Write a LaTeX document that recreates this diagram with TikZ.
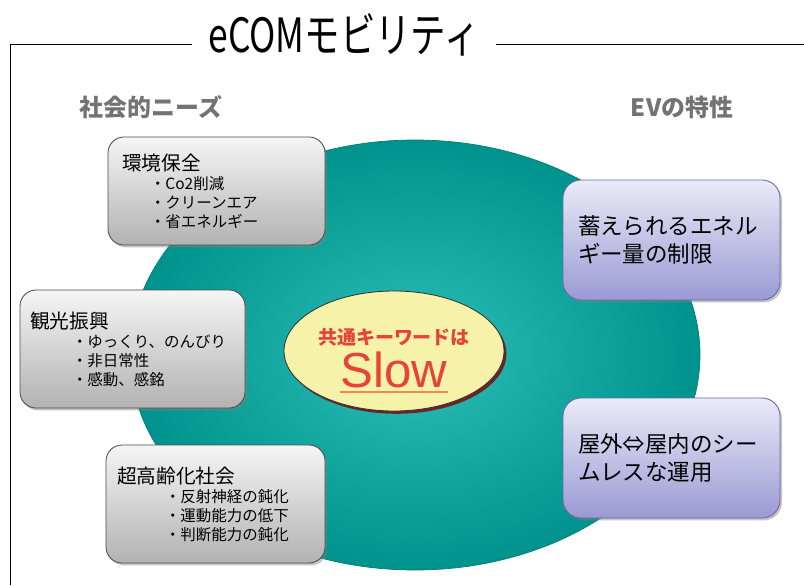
\documentclass[tikz,border=0pt]{standalone}
\usepackage{fontspec}
\setmainfont{Noto Sans CJK JP}
\newfontfamily\latinfont{Liberation Sans}
\usetikzlibrary{shapes.geometric,shadows}

\definecolor{tealin}{HTML}{2CBFB6}
\definecolor{tealout}{HTML}{00938D}
\definecolor{needtop}{HTML}{F5F5F5}
\definecolor{needbot}{HTML}{B2B2B2}
\definecolor{evtop}{HTML}{EAEAF8}
\definecolor{evbot}{HTML}{9A9AD4}
\definecolor{slowred}{HTML}{E6433A}
\definecolor{slowline}{HTML}{F08A4B}
\definecolor{slowfill}{HTML}{F6F2AA}

\newcommand\needitem[2]{\hspace*{#1}・#2}

\tikzset{
  needbox/.style={rounded corners=0.4cm, draw=black!70, line width=0.6pt,
    top color=needtop, bottom color=needbot,
    drop shadow={shadow xshift=0.05cm, shadow yshift=-0.06cm, opacity=0.45},
    align=left, font=\fontsize{11}{13.5}\selectfont},
  evbox/.style={rounded corners=0.45cm, draw=black!60!blue!60, line width=0.6pt,
    top color=evtop, bottom color=evbot,
    drop shadow={shadow xshift=0.05cm, shadow yshift=-0.06cm, opacity=0.45},
    align=left, inner xsep=0.375cm, text width=4.675cm, minimum height=3cm,
    font=\fontsize{16}{20}\selectfont},
  heading/.style={text=black!55, font=\fontsize{17}{20}\selectfont\bfseries},
  boxtitle/.style={font=\fontsize{14}{18}\selectfont}
}

\begin{document}
\begin{tikzpicture}
	%%%%% FRAME %%%%%
	\useasboundingbox (0, 0) rectangle (20.1, 14.625);
	\fill[white] (0, 0) rectangle (20.1, 14.625);
	
	\node[inner xsep=0.4cm, inner ysep=0] (title) at (8.6, 13.75)
		{\scalebox{0.84}[1.12]{\fontsize{30}{34}\selectfont eCOMモビリティ}};
	\coordinate (corner) at (0.25, 13.525);
	\draw[line width=0.6pt] (0.25, 0) -- (corner) -- (title.west |- corner);
	\draw[line width=0.6pt] (title.east |- corner) -- (20.1, 13.525);
	
	\node[heading] (needs) at (3.775, 11.95) {社会的ニーズ};
	\node[heading] (evtraits) at (17.05, 11.95) {EVの特性};
	
	%%%%% ELLIPSES %%%%%
	\node[ellipse, draw=tealout!85!black, line width=0.5pt, inner color=tealin, outer color=tealout,
		minimum width=14.25cm, minimum height=10.75cm] (base) at (10.375, 5.75) {};
	
	\node[ellipse, draw=black!80, line width=0.6pt, fill=slowfill,
		drop shadow={shadow xshift=0.06cm, shadow yshift=-0.07cm, fill=red!50!black, opacity=0.8},
		minimum width=5.5cm, minimum height=3cm] (keyword) at (9.85, 5.85) {};
	\node[text=slowred, font=\fontsize{13.5}{16}\selectfont\bfseries] (common) at (9.85, 6.2) {共通キーワードは};
	\node[text=slowred, inner sep=0, font=\fontsize{35}{40}\selectfont\latinfont] (slow) at (9.85, 5.375) {Slow};
	\draw[slowline, line width=1.3pt] ([yshift=-3pt]slow.base west) -- ([yshift=-3pt]slow.base east);
	
	%%%%% NEEDS %%%%%
	\node[needbox, inner xsep=0.35cm, text width=4.725cm, minimum height=2.7cm] (env) at (5.4125, 9.85)
		{{\fontsize{14}{18}\selectfont 環境保全}\\
		\needitem{0.7cm}{Co2削減}\\
		\needitem{0.7cm}{クリーンエア}\\
		\needitem{0.7cm}{省エネルギー}};
	
	\node[needbox, inner xsep=0.25cm, text width=5.125cm, minimum height=2.95cm] (tour) at (3.3125, 5.9)
		{{\fontsize{14}{18}\selectfont 観光振興}\\
		\needitem{1.05cm}{ゆっくり、のんびり}\\
		\needitem{1.05cm}{非日常性}\\
		\needitem{1.05cm}{感動、感銘}};
	
	\node[needbox, inner xsep=0.275cm, text width=4.925cm, minimum height=2.95cm] (aging) at (5.3875, 2.025)
		{{\fontsize{14}{18}\selectfont 超高齢化社会}\\
		\needitem{1.2cm}{反射神経の鈍化}\\
		\needitem{1.2cm}{運動能力の低下}\\
		\needitem{1.2cm}{判断能力の鈍化}};
	
	%%%%% EV %%%%%
	\node[evbox] (energy) at (16.7875, 8.625) {蓄えられるエネル\\ギー量の制限};
	\node[evbox] (seamless) at (16.7875, 3.175) {屋外⇔屋内のシー\\ムレスな運用};
\end{tikzpicture}
\end{document}
